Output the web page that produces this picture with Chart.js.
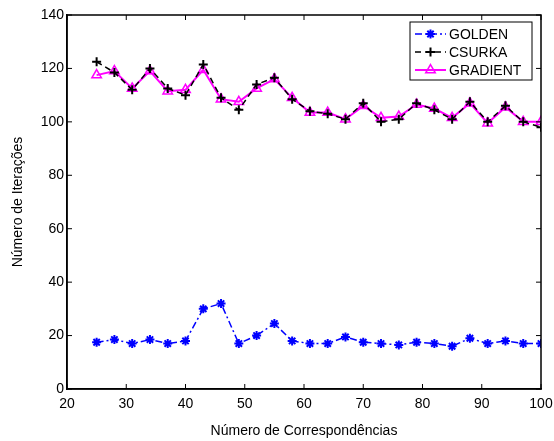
<!DOCTYPE html>
<html>
<head>
<meta charset="utf-8">
<script src="https://cdn.jsdelivr.net/npm/chart.js@4.4.1/dist/chart.umd.min.js"></script>
<style>
  html, body { margin: 0; padding: 0; background: #fff; }
  #wrap { width: 554px; height: 441px; position: relative; }
</style>
</head>
<body>
<div id="wrap"><canvas id="chart"></canvas></div>
<script>
// Data
const correspondencias = [25, 28, 31, 34, 37, 40, 43, 46, 49, 52, 55, 58, 61, 64, 67, 70, 73, 76, 79, 82, 85, 88, 91, 94, 97, 100];
const golden = [17.5, 18.5, 17, 18.5, 17, 18, 30, 32, 17, 20, 24.5, 18, 17, 17, 19.5, 17.5, 17, 16.5, 17.5, 17, 16, 19, 17, 18, 17, 17];
const csurka = [122.5, 118.5, 112, 120, 112.5, 110, 121.5, 109, 104.5, 114, 116.5, 108.5, 104, 103, 101, 107, 100, 101, 107, 104.5, 101, 107.5, 100, 106, 100, 98];
const gradient = [117.5, 119, 112.5, 119, 111.5, 112, 119.5, 108.5, 107.5, 112.5, 116, 109, 103.5, 103.5, 101, 106, 101.5, 102, 106.5, 105, 101.5, 107, 99.5, 105.5, 100, 100];
const xTicks = [20, 30, 40, 50, 60, 70, 80, 90, 100];
const yTicks = [0, 20, 40, 60, 80, 100, 120, 140];

const FONT = "Liberation Sans, Arial, sans-serif";

function toPoints(values) {
  return correspondencias.map((x, i) => ({ x: x, y: values[i] }));
}

// Box frame with inward ticks, MATLAB style
const framePlugin = {
  id: "frame",
  afterDraw(chart) {
    const { ctx, chartArea: a, scales } = chart;
    ctx.save();
    ctx.strokeStyle = "#000";
    ctx.lineWidth = 1.5;
    ctx.strokeRect(a.left, a.top, a.right - a.left, a.bottom - a.top);
    ctx.lineWidth = 1;
    ctx.beginPath();
    xTicks.forEach((v) => {
      const px = scales.x.getPixelForValue(v);
      ctx.moveTo(px, a.bottom); ctx.lineTo(px, a.bottom - 5);
      ctx.moveTo(px, a.top); ctx.lineTo(px, a.top + 5);
    });
    yTicks.forEach((v) => {
      const py = scales.y.getPixelForValue(v);
      ctx.moveTo(a.left, py); ctx.lineTo(a.left + 5, py);
      ctx.moveTo(a.right, py); ctx.lineTo(a.right - 5, py);
    });
    ctx.stroke();
    ctx.restore();
  }
};

// Legend box inside the plot, top right
const legendPlugin = {
  id: "boxLegend",
  afterDraw(chart) {
    const c = chart.ctx;
    const bx = 410, by = 22, bw = 122, bh = 58;
    c.save();
    c.fillStyle = "#fff";
    c.fillRect(bx, by, bw, bh);
    c.strokeStyle = "#000";
    c.lineWidth = 1;
    c.strokeRect(bx, by, bw, bh);
    chart.data.datasets.forEach((ds, i) => {
      const y = by + 12 + i * 18;
      c.strokeStyle = ds.borderColor;
      c.lineWidth = ds.borderWidth;
      c.setLineDash(ds.borderDash || []);
      c.beginPath();
      c.moveTo(bx + 5, y);
      c.lineTo(bx + 36, y);
      c.stroke();
      c.setLineDash([]);
      c.strokeStyle = ds.pointBorderColor;
      c.fillStyle = ds.pointBackgroundColor || ds.backgroundColor;
      c.lineWidth = ds.pointBorderWidth;
      Chart.helpers.drawPoint(c, {
        pointStyle: ds.pointStyle,
        radius: ds.pointRadius,
        borderWidth: ds.pointBorderWidth
      }, bx + 20.5, y);
      c.fillStyle = "#000";
      c.font = "14px " + FONT;
      c.textBaseline = "middle";
      c.textAlign = "left";
      c.fillText(ds.label, bx + 39, y + 1);
    });
    c.restore();
  }
};

const ctx = document.getElementById("chart");
new Chart(ctx, {
  type: "line",
  data: {
    datasets: [
      {
        label: "GOLDEN",
        data: toPoints(golden),
        borderColor: "#0000ff",
        backgroundColor: "#0000ff",
        borderWidth: 1.5,
        borderDash: [7, 3, 2, 3],
        pointStyle: "star",
        pointRadius: 4.5,
        pointBorderWidth: 2,
        pointBorderColor: "#0000ff"
      },
      {
        label: "CSURKA",
        data: toPoints(csurka),
        borderColor: "#000000",
        backgroundColor: "#000000",
        borderWidth: 1.5,
        borderDash: [6, 4],
        pointStyle: "cross",
        pointRadius: 4.5,
        pointBorderWidth: 2,
        pointBorderColor: "#000000"
      },
      {
        label: "GRADIENT",
        data: toPoints(gradient),
        borderColor: "#ff00ff",
        backgroundColor: "rgba(255,255,255,0)",
        borderWidth: 2,
        pointStyle: "triangle",
        pointRadius: 5.5,
        pointBorderWidth: 1.5,
        pointBorderColor: "#ff00ff",
        pointBackgroundColor: "rgba(255,255,255,0)"
      }
    ]
  },
  options: {
    responsive: true,
    maintainAspectRatio: false,
    animation: false,
    devicePixelRatio: 1,
    layout: { padding: { top: 15, right: 13, left: 0, bottom: 0 } },
    elements: { line: { tension: 0 } },
    plugins: {
      legend: { display: false },
      tooltip: { enabled: false }
    },
    scales: {
      x: {
        type: "linear",
        min: 20,
        max: 100,
        afterFit(scale) {
          scale.height = 52;
          scale.paddingLeft = 0;
          scale.paddingRight = 0;
        },
        afterBuildTicks(scale) { scale.ticks = xTicks.map((v) => ({ value: v })); },
        grid: { display: false, drawTicks: false },
        border: { display: true, color: "#000", width: 1.5 },
        ticks: { color: "#000", padding: 7, maxRotation: 0, font: { family: FONT, size: 14 } },
        title: {
          display: true,
          text: "Número de Correspondências",
          color: "#000",
          padding: { top: 0, bottom: 1 },
          font: { family: FONT, size: 14 }
        }
      },
      y: {
        min: 0,
        max: 140,
        afterFit(scale) {
          scale.width = 67;
          scale.paddingTop = 0;
          scale.paddingBottom = 0;
        },
        afterBuildTicks(scale) { scale.ticks = yTicks.map((v) => ({ value: v })); },
        grid: { display: false, drawTicks: false },
        border: { display: true, color: "#000", width: 1.5 },
        ticks: { color: "#000", padding: 3, font: { family: FONT, size: 14 } },
        title: {
          display: true,
          text: "Número de Iterações",
          color: "#000",
          padding: { top: 10, bottom: 0 },
          font: { family: FONT, size: 14 }
        }
      }
    }
  },
  plugins: [framePlugin, legendPlugin]
});
</script>
</body>
</html>
